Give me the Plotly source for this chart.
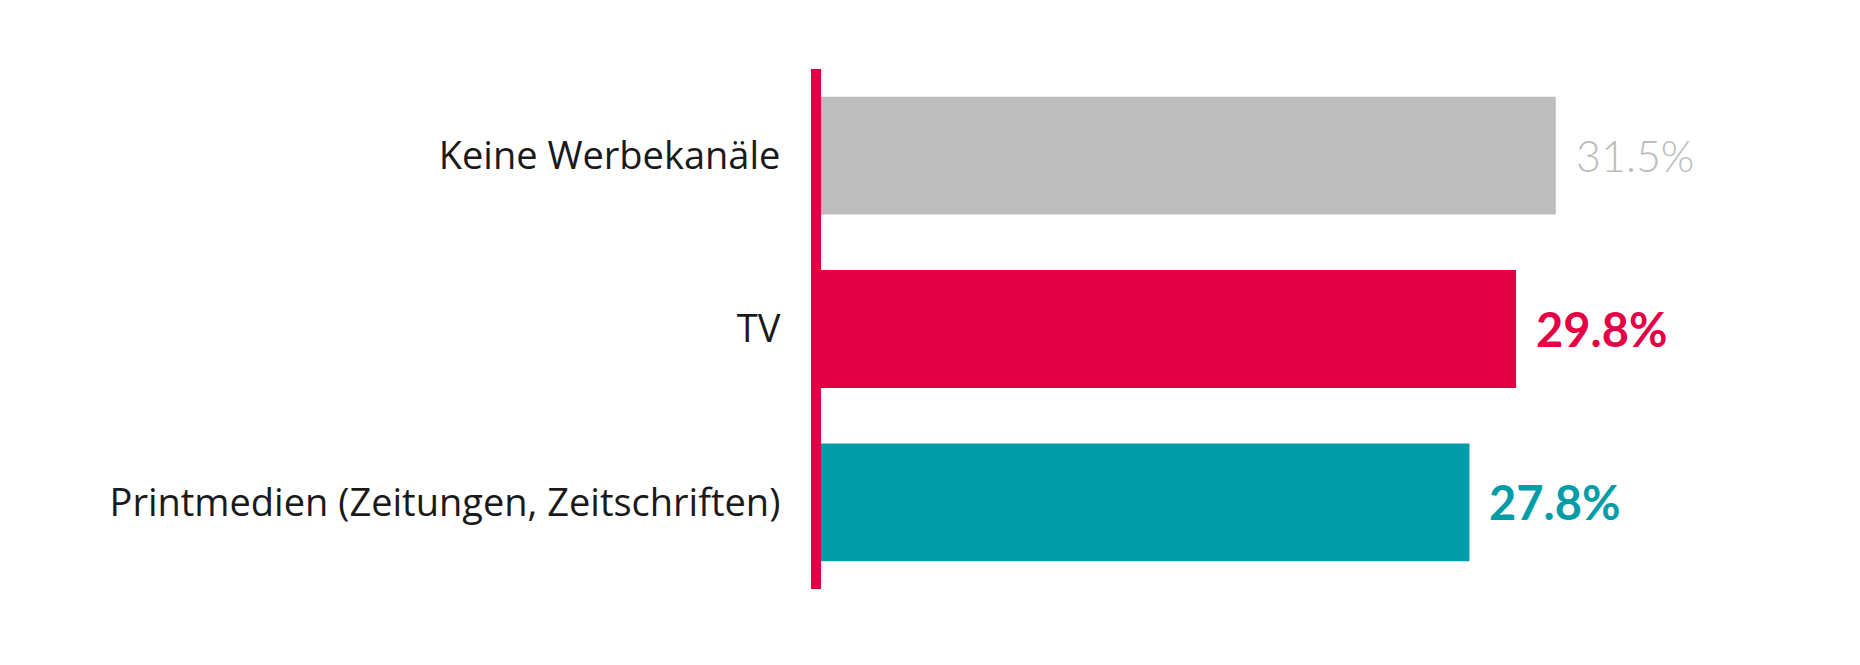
import plotly.graph_objects as go

# data
categories = ["Keine Werbekanäle", "TV", "Printmedien (Zeitungen, Zeitschriften)"]
values = [31.5, 29.8, 27.8]
bar_colors = ["#bdbdbd", "#e30045", "#009ca8"]
label_colors = ["#bdbdbd", "#e30045", "#009ca8"]
label_weights = [300, 700, 700]
label_sizes = [43, 47, 47]

fig = go.Figure()

fig.add_trace(go.Bar(
    x=values,
    y=categories,
    orientation='h',
    marker=dict(color=bar_colors, line=dict(width=0)),
    width=0.68,
    hoverinfo='skip',
))

# value labels to the right of each bar
for cat, val, col, wt, sz in zip(categories, values, label_colors, label_weights, label_sizes):
    fig.add_annotation(
        x=val, y=cat,
        text=f"{val:.1f}%",
        showarrow=False,
        xanchor='left', yanchor='middle',
        xshift=18,
        font=dict(family="Lato", size=sz, color=col, weight=wt),
    )

fig.update_layout(
    width=1860, height=665,
    margin=dict(l=813, r=114, t=61, b=84),
    paper_bgcolor='white',
    plot_bgcolor='white',
    showlegend=False,
    bargap=0.32,
    xaxis=dict(range=[0, 40], visible=False, fixedrange=True),
    yaxis=dict(
        autorange='reversed',
        showline=True, linecolor="#e30045", linewidth=10,
        showgrid=False, zeroline=False,
        ticks='', ticklabelstandoff=23,
        tickfont=dict(family="Open Sans", size=38, color="#1a1a1a", weight=400),
        fixedrange=True,
    ),
)

fig.write_html("out.html")
